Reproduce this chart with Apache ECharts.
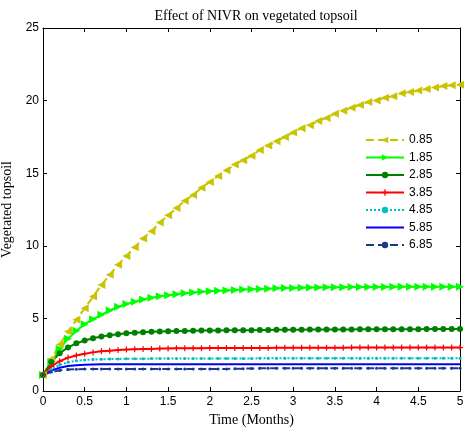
<!DOCTYPE html>
<html>
<head>
<meta charset="utf-8">
<script src="https://cdn.jsdelivr.net/npm/echarts@6/dist/echarts.min.js"></script>
<style>
  html, body { margin: 0; padding: 0; background: #fff; }
  #chart { width: 465px; height: 436px; }
</style>
</head>
<body>
<div id="chart"></div>
<script>
// time points (months)
const months = [
  0, 0.1, 0.2, 0.3, 0.4, 0.5, 0.6, 0.7, 0.8, 0.9,
  1, 1.1, 1.2, 1.3, 1.4, 1.5, 1.6, 1.7, 1.8, 1.9,
  2, 2.1, 2.2, 2.3, 2.4, 2.5, 2.6, 2.7, 2.8, 2.9,
  3, 3.1, 3.2, 3.3, 3.4, 3.5, 3.6, 3.7, 3.8, 3.9,
  4, 4.1, 4.2, 4.3, 4.4, 4.5, 4.6, 4.7, 4.8, 4.9, 5
]
const nivrNames = ['0.85', '1.85', '2.85', '3.85', '4.85', '5.85', '6.85']

// vegetated topsoil for each NIVR value
const v085 = [
  1.1, 2.2, 3.2, 4.1, 4.9, 5.7, 6.5, 7.3, 8.0, 8.7,
  9.3, 9.9, 10.5, 11.0, 11.6, 12.1, 12.6, 13.1, 13.5, 14.0,
  14.4, 14.8, 15.2, 15.6, 15.9, 16.2, 16.6, 16.9, 17.2, 17.5,
  17.8, 18.1, 18.3, 18.6, 18.8, 19.1, 19.3, 19.5, 19.7, 19.9,
  20.0, 20.2, 20.3, 20.5, 20.6, 20.7, 20.8, 20.9, 21.0, 21.05, 21.1
]
const v185 = [
  1.1, 2.0, 2.9, 3.6, 4.15, 4.6, 4.95, 5.25, 5.55, 5.8,
  6.0, 6.15, 6.3, 6.42, 6.52, 6.6, 6.67, 6.73, 6.78, 6.83,
  6.87, 6.9, 6.93, 6.96, 6.99, 7.01, 7.03, 7.05, 7.07, 7.09,
  7.1, 7.11, 7.12, 7.13, 7.14, 7.15, 7.15, 7.16, 7.16, 7.17,
  7.17, 7.17, 7.18, 7.18, 7.18, 7.18, 7.18, 7.18, 7.18, 7.18, 7.18
]
const v285 = [
  1.1, 2.0, 2.6, 3.0, 3.28, 3.48, 3.63, 3.75, 3.84, 3.91,
  3.97, 4.01, 4.05, 4.08, 4.1, 4.12, 4.13, 4.14, 4.15, 4.16,
  4.17, 4.17, 4.18, 4.18, 4.19, 4.19, 4.2, 4.2, 4.21, 4.21,
  4.22, 4.22, 4.23, 4.23, 4.23, 4.24, 4.24, 4.24, 4.25, 4.25,
  4.25, 4.25, 4.26, 4.26, 4.26, 4.26, 4.27, 4.27, 4.27, 4.27, 4.27
]
const v385 = [
  1.1, 1.7, 2.05, 2.3, 2.45, 2.57, 2.66, 2.73, 2.78, 2.82,
  2.85, 2.87, 2.89, 2.9, 2.92, 2.93, 2.94, 2.94, 2.95, 2.95,
  2.96, 2.96, 2.96, 2.97, 2.97, 2.97, 2.97, 2.97, 2.98, 2.98,
  2.98, 2.98, 2.98, 2.98, 2.98, 2.98, 2.98, 2.99, 2.99, 2.99,
  2.99, 2.99, 2.99, 2.99, 2.99, 2.99, 2.99, 2.99, 2.99, 2.99, 2.99
]
const v485 = [
  1.1, 1.5, 1.8, 1.98, 2.08, 2.14, 2.17, 2.19, 2.2, 2.21,
  2.22, 2.22, 2.22, 2.23, 2.23, 2.23, 2.23, 2.23, 2.24, 2.24,
  2.24, 2.24, 2.24, 2.24, 2.24, 2.24, 2.25, 2.25, 2.25, 2.25,
  2.25, 2.25, 2.25, 2.25, 2.25, 2.25, 2.25, 2.25, 2.25, 2.25,
  2.25, 2.25, 2.25, 2.25, 2.25, 2.25, 2.25, 2.25, 2.25, 2.25, 2.25
]
const v585 = [
  1.1, 1.4, 1.6, 1.72, 1.78, 1.81, 1.83, 1.84, 1.84, 1.84,
  1.85, 1.85, 1.85, 1.85, 1.85, 1.85, 1.85, 1.85, 1.85, 1.85,
  1.85, 1.85, 1.85, 1.85, 1.85, 1.85, 1.85, 1.85, 1.85, 1.85,
  1.85, 1.85, 1.85, 1.85, 1.85, 1.85, 1.85, 1.85, 1.85, 1.85,
  1.85, 1.85, 1.85, 1.85, 1.85, 1.85, 1.85, 1.85, 1.85, 1.85, 1.85
]
const v685 = [
  1.1, 1.3, 1.42, 1.48, 1.5, 1.51, 1.52, 1.52, 1.52, 1.52,
  1.52, 1.52, 1.52, 1.52, 1.52, 1.52, 1.52, 1.52, 1.52, 1.52,
  1.52, 1.52, 1.52, 1.53, 1.54, 1.55, 1.56, 1.56, 1.56, 1.56,
  1.56, 1.56, 1.56, 1.56, 1.56, 1.56, 1.56, 1.56, 1.56, 1.56,
  1.56, 1.56, 1.56, 1.56, 1.56, 1.56, 1.56, 1.56, 1.56, 1.56, 1.56
]
const xTicks = [0, 0.5, 1, 1.5, 2, 2.5, 3, 3.5, 4, 4.5, 5]
const yTicks = [0, 5, 10, 15, 20, 25]

const pairs = vals => months.map((t, i) => [t, vals[i]])

const sansFont = '"Liberation Sans", Arial, sans-serif'
const serifFont = '"Liberation Serif", "Times New Roman", serif'

const leftTri = 'path://M0,5L10,0L10,10Z'
const rightTri = 'path://M10,5L0,0L0,10Z'
const plus = 'path://M4,0L6,0L6,4L10,4L10,6L6,6L6,10L4,10L4,6L0,6L0,4L4,4Z'

const line = (name, vals, color, type, symbol, size) => ({
  name,
  type: 'line',
  data: pairs(vals),
  symbol,
  symbolSize: size,
  showSymbol: symbol !== 'none',
  smooth: false,
  animation: false,
  xAxisIndex: 0,
  yAxisIndex: 0,
  lineStyle: { color, width: 2, type },
  itemStyle: { color, borderWidth: 0 }
})

const boxAxis = {
  axisLine: { show: true, onZero: false, lineStyle: { color: '#000', width: 1 } },
  axisTick: { show: true, inside: true, length: 4, lineStyle: { color: '#000' } },
  splitLine: { show: false }
}

const chart = echarts.init(document.getElementById('chart'))
const option = {
  backgroundColor: '#fff',
  title: {
    text: 'Effect of NIVR on vegetated topsoil',
    left: 251,
    top: 4,
    textAlign: 'center',
    textStyle: { fontFamily: serifFont, fontSize: 14, fontWeight: 'normal', color: '#000' }
  },
  grid: {
    left: 43,
    right: 5,
    top: 28,
    bottom: 45,
    outerBoundsMode: 'none'
  },
  legend: {
    orient: 'vertical',
    left: 360,
    top: 129,
    itemWidth: 38,
    itemHeight: 8,
    itemGap: 5.5,
    textStyle: { fontFamily: sansFont, fontSize: 12, color: '#000' },
    data: [
      nivrNames[0], nivrNames[1], nivrNames[2], nivrNames[3], nivrNames[4],
      { name: nivrNames[5], itemStyle: { opacity: 0 } },
      nivrNames[6]
    ]
  },
  xAxis: [
    {
      type: 'value',
      min: 0,
      max: 5,
      interval: 0.5,
      name: 'Time (Months)',
      nameLocation: 'middle',
      nameGap: 22,
      nameTextStyle: { fontFamily: serifFont, fontSize: 14, color: '#000' },
      axisLabel: {
        color: '#000',
        fontFamily: sansFont,
        fontSize: 12,
        margin: 5,
        formatter: v => (xTicks.includes(v) ? String(v) : '')
      },
      ...boxAxis
    },
    {
      type: 'value',
      position: 'top',
      min: 0,
      max: 5,
      interval: 0.5,
      axisLabel: { show: false },
      ...boxAxis
    }
  ],
  yAxis: [
    {
      type: 'value',
      min: 0,
      max: 25,
      interval: 5,
      name: 'Vegetated topsoil',
      nameLocation: 'middle',
      nameGap: 22,
      nameTextStyle: { fontFamily: serifFont, fontSize: 14, color: '#000' },
      axisLabel: {
        color: '#000',
        fontFamily: sansFont,
        fontSize: 12,
        margin: 4,
        formatter: v => (yTicks.includes(v) ? String(v) : '')
      },
      ...boxAxis
    },
    {
      type: 'value',
      position: 'right',
      min: 0,
      max: 25,
      interval: 5,
      axisLabel: { show: false },
      ...boxAxis
    }
  ],
  series: [
    line(nivrNames[0], v085, '#C8C400', 'dashed', leftTri, 8),
    line(nivrNames[1], v185, '#00FF00', 'solid', rightTri, 8),
    line(nivrNames[2], v285, '#008000', 'solid', 'circle', 6),
    line(nivrNames[3], v385, '#FF0000', 'solid', plus, 6),
    line(nivrNames[4], v485, '#00BFBF', 'dotted', 'circle', 3),
    line(nivrNames[5], v585, '#0000FF', 'solid', 'none', 0),
    line(nivrNames[6], v685, '#1C3A8C', 'dashed', 'circle', 3)
  ]
}
chart.setOption(option)
</script>
</body>
</html>
